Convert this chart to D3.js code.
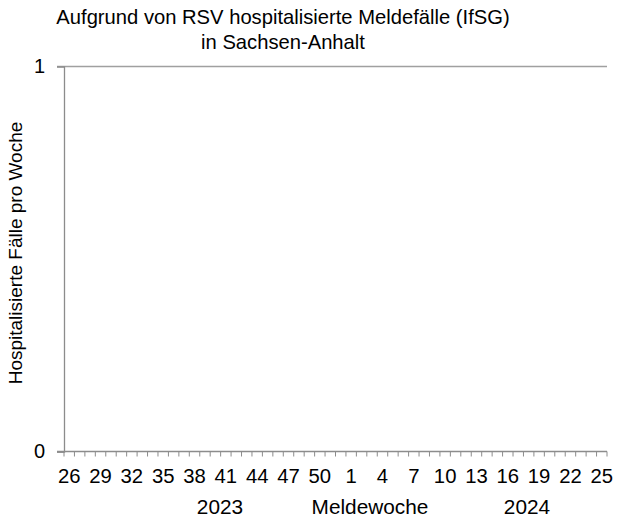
<!DOCTYPE html>
<html>
<head>
<meta charset="utf-8">
<script src="https://cdn.jsdelivr.net/npm/d3@7"></script>
<style>
  body { margin: 0; background: #fff; }
  svg { display: block; font-family: "Liberation Sans", Arial, sans-serif; }
</style>
</head>
<body>
<svg width="626" height="519"></svg>
<script>
// Meldewochen (2023: 26-52, 2024: 1-25)
const weeks = [26, 27, 28, 29, 30, 31, 32, 33, 34, 35, 36, 37, 38, 39, 40, 41, 42, 43, 44,
  45, 46, 47, 48, 49, 50, 51, 52, 1, 2, 3, 4, 5, 6, 7, 8, 9, 10, 11, 12, 13, 14, 15, 16,
  17, 18, 19, 20, 21, 22, 23, 24, 25];
const years = ["2023", "2024"];
// no reported cases in the chart
const cases = [];
const yTicks = [0, 1];

const w = 626, h = 519;
var margin = {top: 66.5, right: 19, bottom: 67.5, left: 64},
    width = w - margin.left - margin.right,
    height = h - margin.top - margin.bottom;

var keys = weeks.map(function(d, i) { return i; });

var x = d3.scaleBand().domain(keys).range([0, width]);
var y = d3.scaleLinear().domain([0, 1]).range([height, 0]);

var svg = d3.select("svg");

// title
svg.append("text")
    .attr("x", 283)
    .attr("y", 24)
    .attr("text-anchor", "middle")
    .style("font-size", "20.2px")
    .text("Aufgrund von RSV hospitalisierte Meldefälle (IfSG)");
svg.append("text")
    .attr("x", 283)
    .attr("y", 49)
    .attr("text-anchor", "middle")
    .style("font-size", "20.2px")
    .text("in Sachsen-Anhalt");

var g = svg.append("g")
    .attr("transform", "translate(" + margin.left + "," + margin.top + ")");

// gridline at 1
g.selectAll(".grid")
    .data(yTicks.filter(function(d) { return d > 0; }))
  .enter().append("line")
    .attr("x1", -7)
    .attr("x2", width)
    .attr("y1", function(d) { return y(d); })
    .attr("y2", function(d) { return y(d); })
    .attr("stroke", "#a0a0a0")
    .attr("stroke-width", 1.3);

// y axis
var yAxis = g.append("g")
    .call(d3.axisLeft(y).tickValues(yTicks).tickFormat(d3.format("d")).tickSize(7).tickPadding(12));
yAxis.select(".domain").attr("stroke", "#8c8c8c").attr("stroke-width", 1.3);
yAxis.selectAll(".tick line").attr("stroke", "#8c8c8c").attr("stroke-width", 1.3)
    .filter(function(d) { return d > 0; }).remove();
yAxis.selectAll(".tick text")
    .style("font-size", "20px")
    .style("font-family", "Liberation Sans, Arial, sans-serif")
    .attr("fill", "#000");

// x axis: ticks between categories, labels every third week
var xg = g.append("g").attr("transform", "translate(0," + height + ")");
xg.append("line")
    .attr("x1", -7).attr("x2", width)
    .attr("stroke", "#8c8c8c").attr("stroke-width", 1.3);
var edges = keys.map(function(i) { return x(i); }).concat([width]);
xg.selectAll(".xtick")
    .data(edges)
  .enter().append("line")
    .attr("x1", function(d) { return d; })
    .attr("x2", function(d) { return d; })
    .attr("y1", 0).attr("y2", 5)
    .attr("stroke", "#8c8c8c").attr("stroke-width", 1);
xg.selectAll(".xlabel")
    .data(keys.filter(function(i) { return i % 3 === 0; }))
  .enter().append("text")
    .attr("x", function(i) { return x(i) + x.bandwidth() / 2; })
    .attr("y", 31)
    .attr("text-anchor", "middle")
    .style("font-size", "20.3px")
    .text(function(i) { return weeks[i]; });

// line for cases (empty)
var line = d3.line()
    .x(function(d) { return x(d.i) + x.bandwidth() / 2; })
    .y(function(d) { return y(d.v); });
g.append("path")
    .attr("fill", "none")
    .attr("stroke", "#4472c4")
    .attr("d", cases.length ? line(cases) : null);

// x axis titles
svg.append("text").attr("x", 220).attr("y", 514).attr("text-anchor", "middle")
    .style("font-size", "20.8px").text(years[0]);
svg.append("text").attr("x", 370).attr("y", 514).attr("text-anchor", "middle")
    .style("font-size", "20.8px").text("Meldewoche");
svg.append("text").attr("x", 527).attr("y", 514).attr("text-anchor", "middle")
    .style("font-size", "20.8px").text(years[1]);

// y axis title
svg.append("text")
    .attr("transform", "translate(22,253) rotate(-90)")
    .attr("text-anchor", "middle")
    .style("font-size", "19px")
    .text("Hospitalisierte Fälle pro Woche");
</script>
</body>
</html>
